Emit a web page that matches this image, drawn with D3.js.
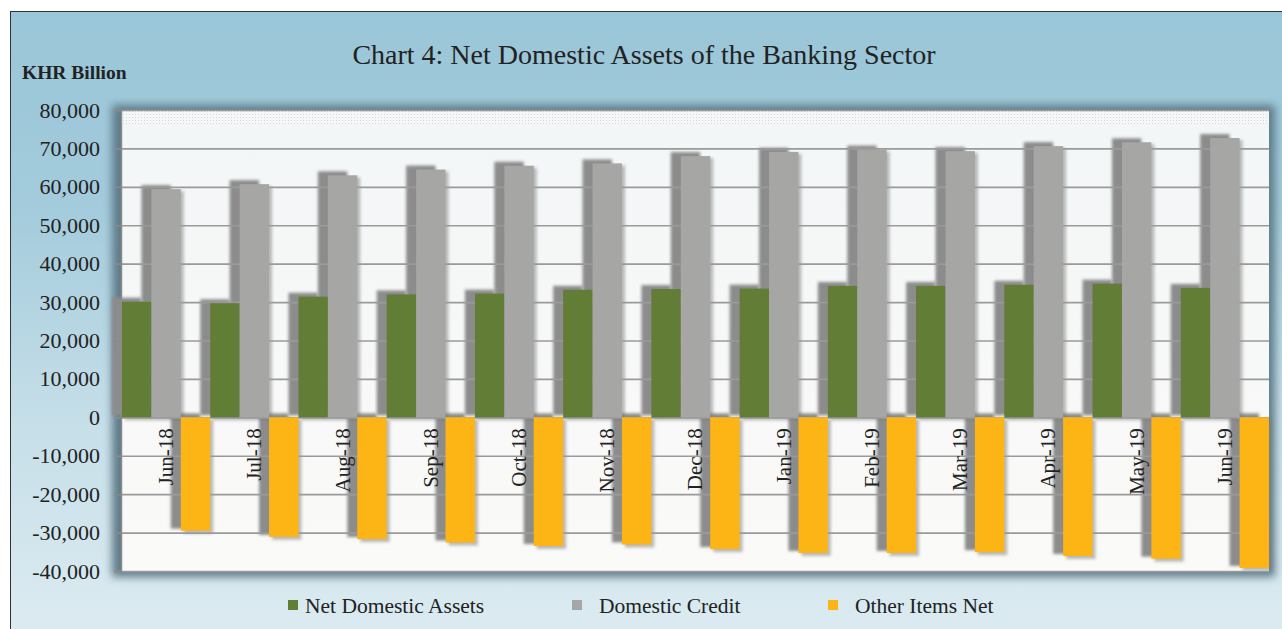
<!DOCTYPE html>
<html>
<head>
<meta charset="utf-8">
<script src="https://cdn.jsdelivr.net/npm/d3@7/dist/d3.min.js"></script>
<style>
  body { margin: 0; background: #fff; }
  svg { display: block; font-family: "Liberation Serif", "Times New Roman", serif; }
</style>
</head>
<body>
<div id="container"></div>
<script>
var months = ["Jun-18", "Jul-18", "Aug-18", "Sep-18", "Oct-18", "Nov-18", "Dec-18",
              "Jan-19", "Feb-19", "Mar-19", "Apr-19", "May-19", "Jun-19"];
var netDomesticAssets = [30100, 29700, 31400, 32000, 32200, 33200, 33400, 33500, 34200, 34200, 34500, 34800, 33700];
var domesticCredit = [59400, 60700, 63000, 64500, 65500, 66100, 68000, 69100, 69700, 69300, 70600, 71600, 72700];
var otherItemsNet = [-29500, -31100, -31700, -32600, -33500, -33100, -34300, -35300, -35300, -35100, -36100, -36800, -39200];
var seriesNames = ["Net Domestic Assets", "Domestic Credit", "Other Items Net"];
var seriesColors = ["#627d36", "#a6a6a5", "#fdb515"];
var yTicks = d3.range(-40000, 80001, 10000);

var width = 1282,
    height = 629;

var svg = d3.select("#container")
    .append("svg")
    .attr("width", width)
    .attr("height", height);

var defs = svg.append("defs");

var bg = defs.append("linearGradient")
    .attr("id", "bgGrad")
    .attr("x1", 0).attr("y1", 0).attr("x2", 0).attr("y2", 1);
bg.append("stop").attr("offset", "0").attr("stop-color", "#99c6d8");
bg.append("stop").attr("offset", "0.3").attr("stop-color", "#a3cbdb");
bg.append("stop").attr("offset", "0.65").attr("stop-color", "#c6dfe9");
bg.append("stop").attr("offset", "1").attr("stop-color", "#deecf2");

var plotGrad = defs.append("linearGradient")
    .attr("id", "plotGrad")
    .attr("x1", 0).attr("y1", 0).attr("x2", 0).attr("y2", 1);
plotGrad.append("stop").attr("offset", "0").attr("stop-color", "#f3f6f7");
plotGrad.append("stop").attr("offset", "1").attr("stop-color", "#fafaf8");

var dots = defs.append("pattern")
    .attr("id", "dots")
    .attr("width", 3).attr("height", 3)
    .attr("patternUnits", "userSpaceOnUse");
dots.append("rect").attr("width", 3).attr("height", 3).attr("fill", "#f6f7f8");
dots.append("rect").attr("width", 1).attr("height", 1).attr("fill", "#d6d9db");

var blur4 = defs.append("filter").attr("id", "blur4")
    .attr("x", "-10%").attr("y", "-10%").attr("width", "120%").attr("height", "120%");
blur4.append("feGaussianBlur").attr("stdDeviation", 4);

var blur1 = defs.append("filter").attr("id", "blur1")
    .attr("x", "-50%").attr("y", "-10%").attr("width", "200%").attr("height", "120%");
blur1.append("feGaussianBlur").attr("stdDeviation", 1.4);

// outer frame
svg.append("rect")
    .attr("x", 10.5).attr("y", 11.5)
    .attr("width", 1280).attr("height", 640)
    .attr("fill", "url(#bgGrad)")
    .attr("stroke", "#333")
    .attr("stroke-width", 1);

var plot = { left: 122, right: 1269, top: 110, bottom: 571 };

var x = d3.scaleBand()
    .domain(months)
    .range([plot.left, plot.right])
    .padding(0);

var xSub = d3.scaleBand()
    .domain(seriesNames)
    .range([0, x.bandwidth()])
    .padding(0);

var y = d3.scaleLinear()
    .domain([-40000, 80000])
    .range([plot.bottom, plot.top]);

var fmt = d3.formatLocale({ decimal: ".", thousands: ",", grouping: [3], currency: ["", ""], minus: "-" }).format(",");

// plot area shadow + background
svg.append("rect")
    .attr("x", plot.left - 10).attr("y", plot.top - 5)
    .attr("width", plot.right - plot.left + 16).attr("height", plot.bottom - plot.top + 11)
    .attr("fill", "#5f7c89")
    .attr("filter", "url(#blur4)");
svg.append("rect")
    .attr("x", plot.left).attr("y", plot.top)
    .attr("width", plot.right - plot.left).attr("height", plot.bottom - plot.top)
    .attr("fill", "url(#plotGrad)");
svg.append("rect")
    .attr("x", plot.left).attr("y", plot.top)
    .attr("width", plot.right - plot.left).attr("height", 14)
    .attr("fill", "url(#dots)");

// build data rows
var rows = months.map(function (m, i) {
    return { month: m, values: [netDomesticAssets[i], domesticCredit[i], otherItemsNet[i]] };
});

function barData(row) {
    return row.values.map(function (v, k) {
        return { month: row.month, series: seriesNames[k], color: seriesColors[k], value: v };
    });
}

// bar shadows (behind grid lines and bars)
var shadowG = svg.append("g");
shadowG.selectAll("g")
    .data(rows)
    .enter().append("g")
    .attr("transform", function (d) { return "translate(" + x(d.month) + ",0)"; })
    .selectAll("rect")
    .data(barData)
    .enter().append("rect")
    .attr("x", function (d) { return xSub(d.series) - 10; })
    .attr("y", function (d) { return (d.value >= 0 ? y(d.value) : y(0)) - 4; })
    .attr("width", xSub.bandwidth())
    .attr("height", function (d) { return Math.abs(y(d.value) - y(0)) + 2; })
    .attr("fill", "#8c8c8c")
    .attr("filter", "url(#blur1)");

shadowG.selectAll("g.right")
    .data(rows)
    .enter().append("g")
    .attr("class", "right")
    .attr("transform", function (d) { return "translate(" + x(d.month) + ",0)"; })
    .selectAll("rect")
    .data(barData)
    .enter().append("rect")
    .attr("x", function (d) { return xSub(d.series) + 3; })
    .attr("y", function (d) { return (d.value >= 0 ? y(d.value) : y(0)) + 2; })
    .attr("width", xSub.bandwidth())
    .attr("height", function (d) { return Math.abs(y(d.value) - y(0)) + 1; })
    .attr("fill", "#7a7a7a")
    .attr("opacity", 0.5)
    .attr("filter", "url(#blur1)");

// grid lines
var grid = svg.append("g")
    .attr("transform", "translate(" + plot.left + ",0)")
    .call(d3.axisLeft(y).tickValues(yTicks).tickSize(-(plot.right - plot.left)).tickFormat(""));
grid.select(".domain").remove();
grid.selectAll("line")
    .attr("stroke", "#9a9a9a")
    .attr("stroke-width", 1.6);

// y axis
var yAxis = svg.append("g")
    .attr("transform", "translate(" + (plot.left - 1) + ",0)")
    .call(d3.axisLeft(y).tickValues(yTicks).tickSize(7).tickPadding(14).tickFormat(fmt));
yAxis.select(".domain").attr("stroke", "#8a8a8a").attr("stroke-width", 1.5);
yAxis.selectAll("line").attr("stroke", "#8a8a8a").attr("stroke-width", 1.5);
yAxis.selectAll("text")
    .attr("fill", "#222")
    .attr("font-size", "22px")
    .attr("font-family", "Liberation Serif, Times New Roman, serif");

// bars
svg.append("g").selectAll("g")
    .data(rows)
    .enter().append("g")
    .attr("transform", function (d) { return "translate(" + x(d.month) + ",0)"; })
    .selectAll("rect")
    .data(barData)
    .enter().append("rect")
    .attr("x", function (d) { return xSub(d.series); })
    .attr("y", function (d) { return d.value >= 0 ? y(d.value) : y(0); })
    .attr("width", xSub.bandwidth())
    .attr("height", function (d) { return Math.abs(y(d.value) - y(0)); })
    .attr("fill", function (d) { return d.color; });

// category labels (rotated)
svg.append("g").selectAll("text")
    .data(months)
    .enter().append("text")
    .attr("transform", function (d) {
        return "translate(" + (x(d) + x.bandwidth() / 2) + "," + (y(0) + 11) + ") rotate(-90)";
    })
    .attr("text-anchor", "end")
    .attr("dy", "0.33em")
    .attr("font-size", "21px")
    .attr("fill", "#222")
    .text(function (d) { return d; });

// title
svg.append("text")
    .attr("x", 644)
    .attr("y", 64)
    .attr("text-anchor", "middle")
    .attr("font-size", "28px")
    .attr("fill", "#222")
    .text("Chart 4: Net Domestic Assets of the Banking Sector");

svg.append("text")
    .attr("x", 22)
    .attr("y", 79)
    .attr("font-size", "19.5px")
    .attr("font-weight", "bold")
    .attr("fill", "#222")
    .text("KHR Billion");

// legend
var legendX = [288, 572, 828];
var legendTextGap = [17, 27, 27];
var legend = svg.append("g").selectAll("g")
    .data(seriesNames)
    .enter().append("g")
    .attr("transform", function (d, i) { return "translate(" + legendX[i] + ",600)"; });
legend.append("rect")
    .attr("width", 10).attr("height", 10)
    .attr("fill", function (d, i) { return seriesColors[i]; });
legend.append("text")
    .attr("x", function (d, i) { return legendTextGap[i]; })
    .attr("y", 13)
    .attr("font-size", "21.5px")
    .attr("fill", "#222")
    .text(function (d) { return d; });
</script>
</body>
</html>
